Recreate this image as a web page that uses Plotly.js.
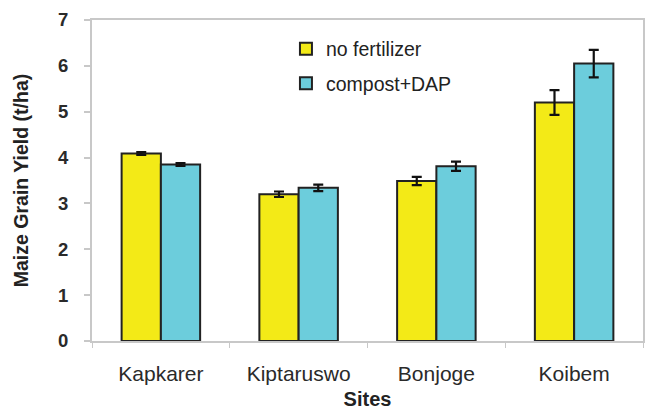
<!DOCTYPE html>
<html>
<head>
<meta charset="utf-8">
<script src="https://cdn.plot.ly/plotly-3.0.1.min.js"></script>
<style>
html,body{margin:0;padding:0;background:#fff;}
#chart{width:646px;height:410px;}
</style>
</head>
<body>
<div id="chart"></div>
<script>
const sites = ["Kapkarer", "Kiptaruswo", "Bonjoge", "Koibem"];
const noFertilizer = [4.09, 3.20, 3.49, 5.20];
const noFertilizerErr = [0.03, 0.06, 0.09, 0.27];
const compostDAP = [3.85, 3.34, 3.81, 6.05];
const compostDAPErr = [0.03, 0.07, 0.10, 0.30];
const yTicks = [0, 1, 2, 3, 4, 5, 6, 7];

const font = "Liberation Sans, Arial, Helvetica, sans-serif";
const barLine = {color: "#222222", width: 2};
const errStyle = {type: "data", visible: true, color: "#111111", thickness: 2.2, width: 5};

const traces = [
  {
    type: "bar", name: "no fertilizer", x: sites, y: noFertilizer,
    error_y: Object.assign({array: noFertilizerErr}, errStyle),
    marker: {color: "#F3EA17", line: barLine},
    legendgroup: "a"
  },
  {
    type: "bar", name: "compost+DAP", x: sites, y: compostDAP,
    error_y: Object.assign({array: compostDAPErr}, errStyle),
    marker: {color: "#6CCDDC", line: barLine},
    legendgroup: "b"
  }
];

const layout = {
  width: 646, height: 410,
  margin: {l: 92, r: 3, t: 20, b: 69},
  paper_bgcolor: "#ffffff", plot_bgcolor: "#ffffff",
  barmode: "group", bargap: 0.43, bargroupgap: 0,
  font: {family: font, color: "#222222"},
  showlegend: true,
  legend: {
    x: 0.352, y: 0.97, xanchor: "left", yanchor: "top",
    font: {family: font, size: 19.5, color: "#222222"},
    bgcolor: "rgba(0,0,0,0)", traceorder: "grouped", tracegroupgap: 6,
    itemwidth: 30
  },
  xaxis: {
    type: "category",
    showline: true, linecolor: "#c8c8c8", linewidth: 2, mirror: true,
    ticks: "outside", tickson: "boundaries", ticklen: 5, tickcolor: "#c8c8c8", tickwidth: 1,
    tickfont: {family: font, size: 21, color: "#2a2a2a"},
    ticklabelstandoff: 13,
    showgrid: false, zeroline: false,
    title: {text: "<b>Sites</b>", font: {family: font, size: 20, color: "#222222"}, standoff: 13}
  },
  yaxis: {
    range: [0, 7], tickvals: yTicks, ticktext: yTicks.map(v => "<b>" + v + "</b>"),
    showline: true, linecolor: "#c8c8c8", linewidth: 2, mirror: true,
    ticks: "outside", ticklen: 6, tickcolor: "#c8c8c8", tickwidth: 2,
    tickfont: {family: font, size: 18.5, color: "#2a2a2a"},
    ticklabelstandoff: 12,
    showgrid: false, zeroline: false,
    title: {text: "<b>Maize Grain Yield (t/ha)</b>", font: {family: font, size: 19.5, color: "#222222"}, standoff: 24}
  }
};

Plotly.newPlot("chart", traces, layout, {staticPlot: true, displayModeBar: false});
</script>
</body>
</html>
